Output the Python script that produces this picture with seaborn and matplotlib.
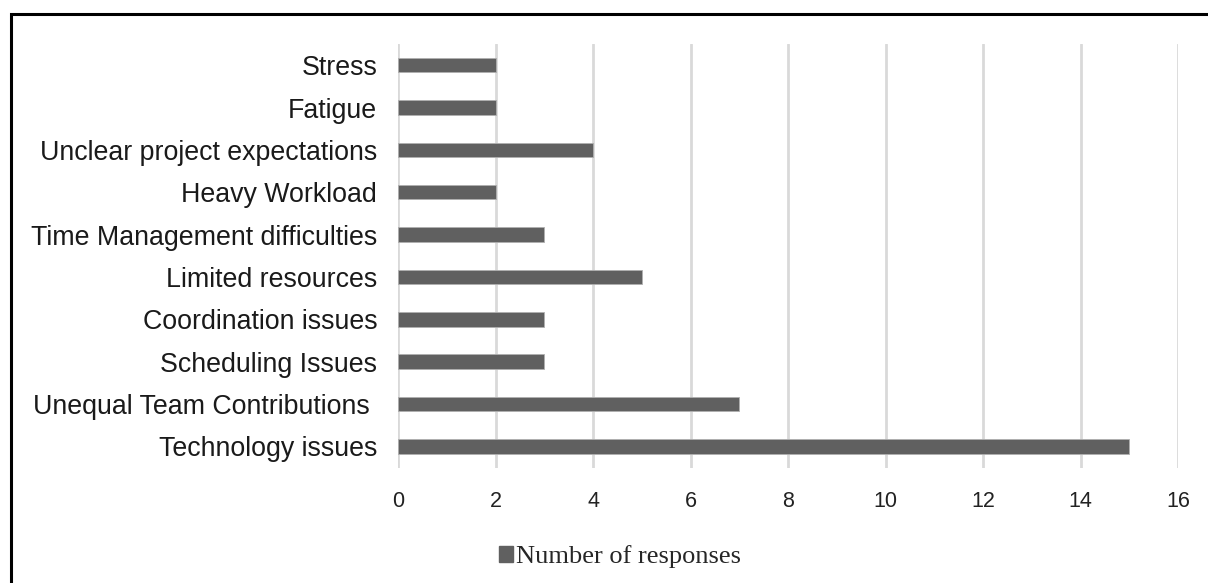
import matplotlib
matplotlib.use("Agg")
import matplotlib.pyplot as plt
from matplotlib.patches import Patch, Rectangle
import seaborn as sns
import pandas as pd

categories = [
    "Stress",
    "Fatigue",
    "Unclear project expectations",
    "Heavy Workload",
    "Time Management difficulties",
    "Limited resources",
    "Coordination issues",
    "Scheduling Issues",
    "Unequal Team Contributions ",
    "Technology issues",
]
responses = [2, 2, 4, 2, 3, 5, 3, 3, 7, 15]
x_ticks = [0, 2, 4, 6, 8, 10, 12, 14, 16]
legend_label = "Number of responses"

bar_color = "#606060"
grid_color = "#d9d9d9"

sns.set_theme(style="white")
plt.rcParams["font.family"] = ["Liberation Sans", "DejaVu Sans"]

df = pd.DataFrame({"issue": categories, "count": responses})

fig = plt.figure(figsize=(12.08, 5.83), dpi=100)
ax = fig.add_axes([0.3295, 0.198, 0.6457, 0.7265])

sns.barplot(data=df, y="issue", x="count", orient="h", order=categories,
            color=bar_color, saturation=1, width=0.34,
            edgecolor="#b0b0b0", linewidth=0.6, ax=ax, zorder=3)

ax.set_xlim(0, 16)
ax.set_xticks(x_ticks)
ax.set_xticklabels([str(t) for t in x_ticks])
ax.xaxis.grid(True, color=grid_color, linewidth=2.0, zorder=0)
ax.yaxis.grid(False)
ax.set_axisbelow(True)
for s in ax.spines.values():
    s.set_visible(False)
ax.set_xlabel("")
ax.set_ylabel("")
ax.tick_params(axis="x", length=0, pad=17, labelsize=15.5, labelcolor="#222222")
ax.tick_params(axis="y", length=0, pad=15, labelsize=19.3, labelcolor="#1a1a1a")

handle = Patch(facecolor=bar_color, edgecolor=bar_color)
fig.legend([handle], [legend_label], loc="center", bbox_to_anchor=(0.513, 0.045),
           frameon=False, handlelength=0.55, handleheight=0.55, handletextpad=0.1,
           prop={"family": "Liberation Serif", "size": 19})

# outer frame of the chart area
fig.patches.append(Rectangle((11 / 1208, -0.05), 1.1, 1 - 14 / 583 + 0.05,
                             transform=fig.transFigure, fill=False,
                             edgecolor="black", linewidth=2.2, zorder=10))

fig.savefig("out.png", dpi=100)
